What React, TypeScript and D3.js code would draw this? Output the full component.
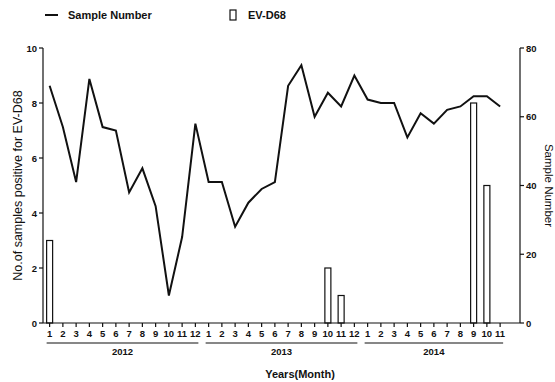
import React from "react";
import * as d3 from "d3";

const years = ["2012", "2013", "2014"];
const monthsPerYear = [12, 12, 11];
const sampleNumber = [
  69, 57, 41, 71, 57, 56, 38, 45, 34, 8, 25, 58,
  41, 41, 28, 35, 39, 41, 69, 75, 60, 67, 63, 72,
  65, 64, 64, 54, 61, 58, 62, 63, 66, 66, 63,
];
const evd68 = [
  3, 0, 0, 0, 0, 0, 0, 0, 0, 0, 0, 0,
  0, 0, 0, 0, 0, 0, 0, 0, 0, 2, 1, 0,
  0, 0, 0, 0, 0, 0, 0, 0, 8, 5, 0,
];
const leftTicks = [0, 2, 4, 6, 8, 10];
const rightTicks = [0, 20, 40, 60, 80];

export default function App() {
  const W = 555, H = 382;
  const left = 43, right = 520, top = 48, bottom = 323;
  const cats: { label: string; year: number; idx: number }[] = [];
  monthsPerYear.forEach((n, yi) => {
    for (let m = 1; m <= n; m++) cats.push({ label: String(m), year: yi, idx: cats.length });
  });
  const x = d3.scaleBand<number>().domain(d3.range(36)).range([left, right]);
  const cx = (i: number) => (x(i) as number) + x.bandwidth() / 2;
  const yL = d3.scaleLinear().domain([0, 10]).range([bottom, top]);
  const yR = d3.scaleLinear().domain([0, 80]).range([bottom, top]);
  const line = d3.line<number>().x((_, i) => cx(i)).y((d) => yR(d));
  const font = "Liberation Sans, Arial, sans-serif";
  const bw = 6;

  return (
    <svg width={W} height={H} style={{ position: "absolute", left: 0, top: 0 }} fontFamily={font}>
      <rect width={W} height={H} fill="#fff" />
      {/* legend */}
      <line x1={45} x2={58} y1={15} y2={15} stroke="#111" strokeWidth={2} />
      <text x={68} y={19} fontSize={11} fontWeight="bold" fill="#111">Sample Number</text>
      <rect x={230} y={10} width={6} height={10} fill="#fff" stroke="#111" strokeWidth={1.2} />
      <text x={248} y={19} fontSize={11} fontWeight="bold" fill="#111">EV-D68</text>

      {/* bars */}
      {evd68.map((v, i) =>
        v > 0 ? (
          <rect key={i} x={cx(i) - bw / 2} y={yL(v)} width={bw} height={yL(0) - yL(v)}
            fill="#fff" stroke="#111" strokeWidth={1.2} />
        ) : null
      )}
      {/* line */}
      <path d={line(sampleNumber) || ""} fill="none" stroke="#111" strokeWidth={2} strokeLinejoin="miter" />

      {/* left axis */}
      <line x1={left} x2={left} y1={top} y2={bottom} stroke="#111" strokeWidth={1.2} />
      {leftTicks.map((t) => (
        <g key={t}>
          <line x1={left - 4} x2={left} y1={yL(t)} y2={yL(t)} stroke="#111" strokeWidth={1.2} />
          <text x={left - 6} y={yL(t) + 3.5} fontSize={9.5} fontWeight="bold" textAnchor="end" fill="#111">{t}</text>
        </g>
      ))}
      {/* right axis */}
      <line x1={right} x2={right} y1={top} y2={bottom} stroke="#111" strokeWidth={1.2} />
      {rightTicks.map((t) => (
        <g key={t}>
          <line x1={right} x2={right + 4} y1={yR(t)} y2={yR(t)} stroke="#111" strokeWidth={1.2} />
          <text x={right + 6} y={yR(t) + 3.5} fontSize={9.5} fontWeight="bold" fill="#111">{t}</text>
        </g>
      ))}
      {/* x axis */}
      <line x1={left} x2={right} y1={bottom} y2={bottom} stroke="#111" strokeWidth={1.2} />
      {cats.map((c) => (
        <g key={c.idx}>
          <line x1={cx(c.idx)} x2={cx(c.idx)} y1={bottom} y2={bottom + 4} stroke="#111" strokeWidth={1.2} />
          <text x={cx(c.idx)} y={bottom + 14} fontSize={9.5} fontWeight="bold" textAnchor="middle" fill="#111">{c.label}</text>
        </g>
      ))}
      {years.map((yr, yi) => {
        const idxs = cats.filter((c) => c.year === yi).map((c) => c.idx);
        const x1 = cx(idxs[0]) - 3;
        const x2 = cx(idxs[idxs.length - 1]) + 3;
        return (
          <g key={yr}>
            <line x1={x1} x2={x2} y1={343} y2={343} stroke="#111" strokeWidth={1.2} />
            <text x={(x1 + x2) / 2} y={355} fontSize={9.5} fontWeight="bold" textAnchor="middle" fill="#111">{yr}</text>
          </g>
        );
      })}
      <text x={300} y={378} fontSize={11} fontWeight="bold" textAnchor="middle" fill="#111">Years(Month)</text>
      <text transform={`translate(22,${(top + bottom) / 2}) rotate(-90)`} fontSize={12.5} textAnchor="middle" fill="#111">
        No.of samples positive for EV-D68
      </text>
      <text transform={`translate(545,${(top + bottom) / 2}) rotate(90)`} fontSize={11.5} textAnchor="middle" fill="#111">
        Sample Number
      </text>
    </svg>
  );
}
